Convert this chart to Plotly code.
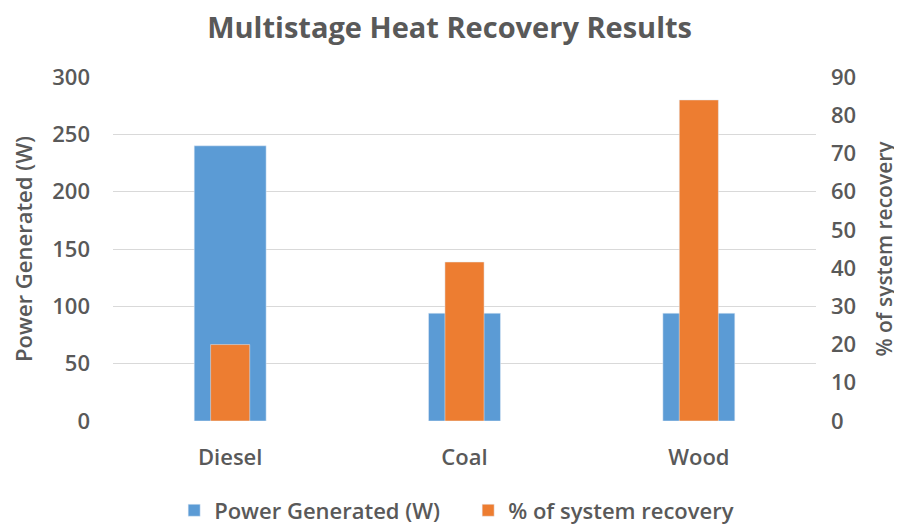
import plotly.graph_objects as go

# Chart data
categories = ["Diesel", "Coal", "Wood"]
power_w = [240, 94, 94]
recovery_pct = [20, 41.6, 84]

GRAY = "#595959"
FONT = "'Open Sans', sans-serif"


def txt(size, weight=600):
    return dict(family=FONT, size=size, color=GRAY, weight=weight)


fig = go.Figure()

# Power bars (left axis)
fig.add_trace(go.Bar(
    x=categories,
    y=power_w,
    name="Power Generated (W)",
    marker=dict(color="#5B9BD5"),
    width=0.307,
    yaxis="y",
))

# Recovery bars (right axis), narrower and drawn on top
fig.add_trace(go.Bar(
    x=categories,
    y=recovery_pct,
    name="% of system recovery",
    marker=dict(color="#ED7D31"),
    width=0.167,
    yaxis="y2",
))

# page body adds an 8px margin, so the figure is sized to fit the window
fig.update_layout(
    width=894,
    height=518,
    plot_bgcolor="white",
    paper_bgcolor="white",
    barmode="overlay",
    font=txt(22),
    title=dict(
        text="Multistage Heat Recovery Results",
        x=0.494, xanchor="center", y=0.962, yanchor="middle",
        font=txt(29, 700),
    ),
    margin=dict(l=105, r=86, t=69, b=105, autoexpand=False),
    showlegend=True,
    legend=dict(
        orientation="h", x=0.087, xanchor="left", y=-0.26, yanchor="middle",
        font=txt(22), traceorder="normal", itemwidth=30,
        entrywidth=249, entrywidthmode="pixels",
    ),
    xaxis=dict(
        showline=False, ticks="", tickfont=txt(22), ticklabelstandoff=21,
    ),
    yaxis=dict(
        title=dict(text="Power Generated (W)", standoff=20, font=txt(22)),
        range=[0, 300], dtick=50, showgrid=True, gridcolor="#D9D9D9",
        gridwidth=1, zeroline=False, showline=False,
        tickfont=txt(22), ticklabelstandoff=22,
    ),
    yaxis2=dict(
        title=dict(text="% of system recovery", standoff=22, font=txt(21)),
        range=[0, 90], dtick=10, overlaying="y", side="right",
        showgrid=False, zeroline=False, showline=False,
        tickfont=txt(22), ticklabelstandoff=14,
    ),
)

fig.write_html("out.html")
